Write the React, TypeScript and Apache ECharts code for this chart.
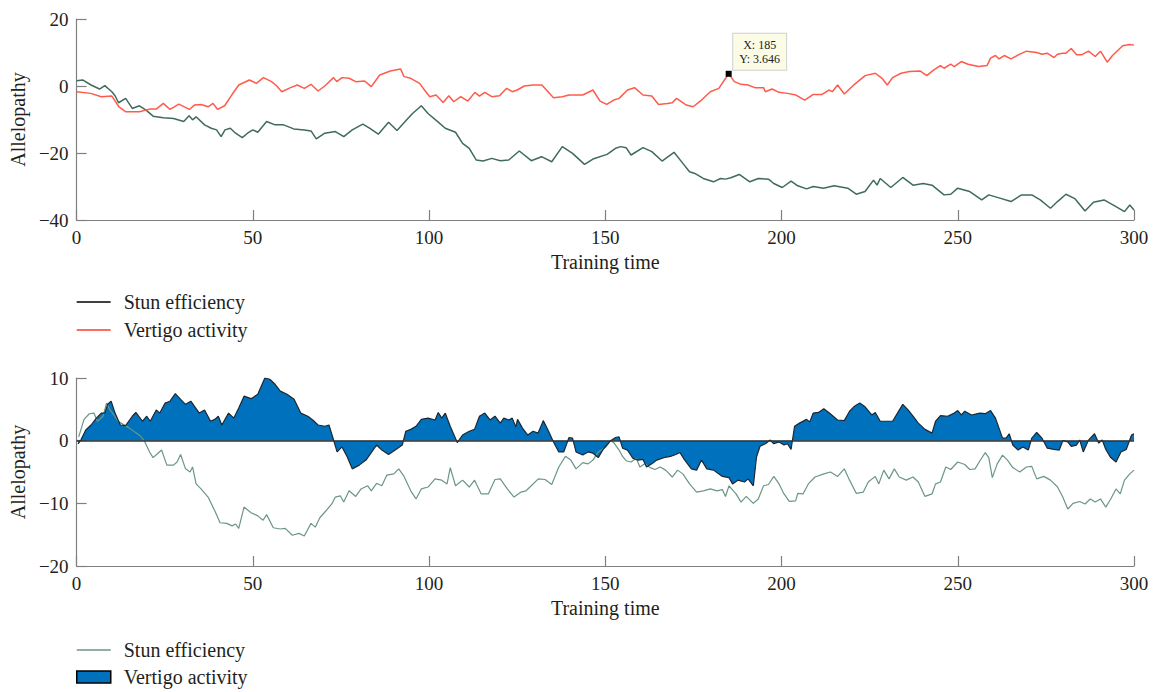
import React, { useEffect, useRef } from "react";
import * as echarts from "echarts";

const FONT = '"Liberation Serif", "DejaVu Serif", serif';
const TXT = "#231f20";
const AXIS = "#808080";

const xTicks = { min: 0, max: 300, interval: 50 };
const seriesNames = ["Stun efficiency", "Vertigo activity"];
const axisNames = { x: "Training time", y: "Allelopathy" };

// Top panel: [training time, allelopathy]
const topStun: [number, number][] = [
  [0, 1.6], [1.7, 1.8], [4.1, 0.3], [6.5, -0.9], [8, 0.1], [10, -1.7], [10.9, -2.9], [11.9, -5], [13.9, -3.7],
  [15.8, -6.7], [17.8, -5.9], [19.7, -7.2], [21.7, -9], [24.6, -9.5], [27.5, -9.7], [30.4, -10.6], [31.9, -8.9],
  [32.9, -10.1], [33.9, -9.2], [36.3, -11.6], [38.2, -12.6], [39.7, -13.1], [41, -15.1], [42.1, -13.1], [43.6, -12.6],
  [45.1, -14.1], [47, -15.4], [48.5, -14.1], [50, -13.1], [51.4, -13.8], [53.9, -10.6], [56.3, -11.6], [58.7, -11.6],
  [61.6, -12.8], [64.6, -13.1], [66.5, -13.4], [68, -15.8], [70.4, -14.1], [73.4, -13.6], [75.8, -15.1], [78.2, -13.1],
  [81.2, -11.4], [83.1, -12.6], [85.6, -14.4], [88.5, -10.8], [90.9, -13.3], [93.4, -10.4], [95.3, -8.2], [97.8, -5.9],
  [99.7, -8.2], [102.6, -10.8], [104.6, -12.6], [107.5, -13.8], [109.5, -17.1], [111.4, -18.6], [113.4, -22.1],
  [115.3, -22.4], [117.8, -21.6], [120.2, -22.3], [122.6, -22.1], [125.6, -19.4], [129, -22.3], [131.9, -21.1],
  [134.8, -22.6], [137.8, -18.1], [140.7, -20.1], [144.1, -23.4], [146.5, -21.8], [150.5, -20.4], [152.9, -18.6],
  [154.4, -18.1], [155.9, -18.4], [157.3, -20.6], [160.7, -18.4], [163.2, -19.6], [166.1, -22.4], [169.5, -19.8],
  [172, -23.1], [173.9, -25.6], [175.4, -26.1], [177.8, -27.6], [180.7, -28.6], [182.7, -27.6], [184.1, -27.8],
  [185.6, -27.4], [188, -26.4], [191, -28.6], [193.4, -27.6], [196.3, -27.8], [197.8, -29.1], [200.2, -30.3],
  [202.7, -28.4], [204.6, -29.8], [207.1, -30.7], [209, -30], [211.9, -30.5], [214.9, -29.8], [218.8, -30.5],
  [221.2, -32.3], [223.7, -31.5], [226.1, -28.1], [227.1, -29.6], [228, -27.6], [231, -30.3], [234.4, -27.3],
  [237.3, -29.6], [240.2, -29.1], [242.7, -29.6], [246.1, -32.5], [248, -32.3], [250, -30.5], [253.4, -31.5],
  [256.8, -34], [258.8, -32.5], [261.7, -33.4], [265.1, -34.5], [268.1, -32.5], [271, -32.5], [273.4, -34],
  [276.3, -36.5], [278.3, -34.5], [280.7, -32.3], [283.2, -33.6], [286.1, -37.3], [288.5, -34.7], [291.5, -34],
  [294.4, -35.7], [297.3, -37.5], [298.8, -35.5], [300, -37],
];

const topVertigo: [number, number][] = [
  [0, -1.7], [4, -2.2], [7, -3.2], [10, -3], [12, -6.2], [14, -7.7], [17.8, -7.7], [20.7, -6.9], [22.6, -6.9],
  [24.6, -5.2], [26.5, -7], [29, -5.4], [32, -7], [33.4, -5.7], [35.3, -5.5], [37.3, -6.2], [38.7, -5.2], [40, -7],
  [42, -5.9], [44, -2.7], [46, 0.3], [49, 1.8], [51, 0.8], [53, 2.5], [55.3, 1.3], [56.8, 0], [58.2, -1.7],
  [60.7, -0.5], [62.6, 0.3], [64.6, -0.7], [66.5, 0.5], [68.5, -1.5], [70.4, 0], [72.9, 2.5], [73.8, 1.3],
  [75.3, 2.5], [77.3, 2.3], [79.2, 1.3], [81.7, 1.5], [83.6, -0.2], [86, 3.3], [89, 4.5], [91.9, 5.1], [92.9, 2.8],
  [94.8, 2.3], [97.3, 0.8], [98.7, -1.2], [100.2, -3.2], [102, -2.7], [104, -4.9], [105.6, -2.9], [107, -4.7],
  [109, -3.2], [111, -4.5], [113, -1.9], [114.3, -3], [115.8, -1.9], [117.8, -3.2], [120, -2.9], [122, -0.7],
  [123.6, -1.7], [125, -1.2], [127, 0], [129.5, 0.3], [132, 0.3], [135.3, -3.5], [137.8, -3.2], [139.7, -2.7],
  [143.6, -2.7], [146.5, -1.2], [148.5, -4.5], [150.4, -5.5], [152.4, -4.2], [153.9, -3.7], [156.3, -1.2],
  [158.3, -0.5], [160.7, -2.7], [163.2, -3], [165.1, -5.5], [167.6, -5.2], [169, -5], [170.2, -3.7], [173, -5.7],
  [174.9, -6.2], [177.3, -4.2], [179.8, -1.7], [182.2, -0.7], [185, 3.646], [186.6, 1.3], [188.5, 0.5],
  [190.5, 0.3], [192.4, -0.5], [194.9, -0.5], [195.4, -1.7], [197.3, -0.9], [199.3, -1.9], [201.7, -2.2],
  [204.1, -2.7], [206.6, -4.2], [209, -2.5], [211.5, -2.5], [213.4, -1.2], [214.4, -1.7], [215.9, 0.3],
  [217.8, -2.4], [220.7, 0.5], [223.7, 3.1], [226.6, 3.8], [228.5, 2.3], [230, 0.3], [231.5, 2.5], [233.9, 3.8],
  [236.3, 4.3], [239.3, 4.5], [241.2, 3.1], [243.2, 4.8], [245.1, 6.1], [246.1, 5.3], [248, 6.5], [249, 5.8],
  [251, 7.3], [252.9, 6.5], [255.9, 5.8], [258.3, 6.1], [259.3, 8.3], [260.7, 9.1], [261.7, 8.1], [263.2, 9.1],
  [265.1, 8.1], [267.6, 9.5], [269.5, 10.4], [272.4, 10], [273.9, 9.5], [275.4, 9.8], [277.3, 8.5], [278.3, 9.5],
  [279.8, 9.8], [280.7, 9.8], [282.2, 11.2], [283.7, 9.3], [285.1, 9.3], [287.1, 10.4], [289, 8.8], [290.5, 10.4],
  [292.4, 7.1], [293.9, 9.1], [296.8, 12], [298.8, 12.4], [300, 12.2],
];

// Data cursor annotation on the top panel
const tipPoint: [number, number] = [185, 3.646];

// Bottom panel
const botStun: [number, number][] = [
  [0.6, 0.6], [2.1, 3.4], [3.6, 4.3], [4.9, 4.4], [5.9, 3.1], [7.5, 3.9], [8.5, 6], [9.5, 4.9], [12, 3], [15, 2],
  [18, 0.8], [19.2, 0], [20.7, -1.8], [21.7, -2.7], [23.1, -2], [24.1, -1.5], [25.6, -3.9], [27.5, -3.9],
  [28.5, -3.4], [29.5, -2.2], [30.9, -4.5], [32.2, -5], [32.9, -4.2], [33.9, -6.9], [35.3, -7.7], [37.3, -9],
  [39.2, -11.2], [40.7, -13.1], [42.6, -13.2], [44.1, -13.6], [45.1, -13.3], [46, -14], [47.5, -10.6],
  [49.5, -11.5], [51.4, -12], [52.9, -12.7], [53.9, -11.8], [55.8, -13.9], [57.8, -14.1], [59.2, -14],
  [61.2, -15.1], [63.1, -14.8], [64.6, -15.2], [66.5, -13.2], [67.7, -13.8], [69, -12.3], [70.9, -11.1],
  [72.4, -10.1], [73.4, -9], [74.8, -8.8], [75.8, -9.8], [77.3, -8], [79.2, -8.9], [80.7, -7.7], [82.6, -7.2],
  [83.6, -8], [85.1, -6.8], [86.6, -7.2], [88, -5.5], [90, -5.3], [91.4, -4.5], [92.9, -5.7], [94.8, -8],
  [96.3, -9.3], [97.8, -7.7], [99.7, -7.4], [101.7, -6.1], [103.6, -6.3], [105.1, -6.9], [106, -4.3],
  [107.5, -7.2], [109.5, -6.3], [111.4, -7.4], [112.9, -6.3], [114.8, -8.5], [116.8, -8.5], [118.7, -6.2],
  [120.2, -6.1], [122.2, -7.7], [124.1, -9], [126.1, -8.2], [127.5, -8], [129, -7.2], [131, -6.1], [132.9, -6.2],
  [134.8, -7], [136.8, -4.2], [138.7, -2.5], [140.2, -3.1], [141.7, -4.5], [143.6, -3.5], [145.1, -3.7],
  [146.5, -3.1], [148, -1.8], [150, -1.1], [151.5, 0], [152.4, -0.3], [153.9, -1.5], [154.9, -2.5], [155.9, -3.2],
  [157.3, -3.4], [158.8, -2.8], [159.8, -4.2], [161.2, -3.7], [162.7, -4.3], [164.1, -4.6], [165.6, -4.2],
  [167.1, -4.7], [169, -5.8], [170.5, -4.7], [172, -5.3], [173.9, -6.9], [175.9, -8.2], [177.8, -8], [179.8, -7.7],
  [181.7, -8], [183.2, -7.8], [184.1, -8.9], [185.1, -7.2], [187.1, -8.5], [188.5, -9.8], [190, -8.9], [192, -10],
  [193.4, -9.3], [194.9, -7.2], [196.3, -7], [197.8, -5.7], [199.3, -6.9], [200.7, -8.5], [202.2, -9.7],
  [204, -9.6], [204.6, -8.4], [206.1, -8.5], [207.6, -6.9], [209.5, -5.8], [212, -5.3], [213.9, -5], [215.9, -5.7],
  [217.8, -4.5], [219.3, -6.3], [221.2, -8.4], [223.2, -8.2], [224.6, -6.6], [226.6, -5.7], [227.6, -6.9],
  [229, -4.7], [230.5, -6.1], [232, -4.5], [233.4, -5.8], [235.4, -6.3], [237.3, -5.8], [238.8, -6.6],
  [240.7, -8.9], [242.7, -8.5], [243.7, -6.9], [245.1, -6.6], [246.6, -4.2], [248, -4.6], [250, -3.4], [252, -3.8],
  [253.4, -4.6], [254.9, -4.5], [256.3, -3.2], [257.8, -1.9], [258.8, -2.7], [259.8, -5.9], [261.2, -3.7],
  [262.7, -2.3], [264.1, -3.1], [265.6, -4.3], [267.6, -5], [269.5, -4.2], [271, -4.1], [272.4, -6.1],
  [274.4, -5.7], [276.3, -6.3], [278.3, -7.4], [279.8, -9], [281.2, -10.9], [282.7, -10], [284.6, -9.7],
  [286.1, -10.1], [287.6, -9.3], [289, -9.8], [290.5, -9.3], [292, -10.6], [293.4, -9.3], [294.9, -7.7],
  [296.1, -8.5], [297.3, -6.3], [298.8, -5.3], [300, -4.7],
];

const botVertigo: [number, number][] = [
  [0.4, -0.5], [1.2, 0.1], [2.6, 1.7], [4.1, 2.5], [5.6, 3.6], [7, 4.4], [8, 4.4], [8.8, 5.8], [9.8, 6.3],
  [10.9, 4.4], [12.4, 2.5], [13.9, 2.4], [15.8, 3.9], [16.8, 4.5], [18.7, 3.1], [19.9, 3.9], [20.9, 3.1],
  [22.6, 4.9], [23.6, 4.4], [25.1, 6], [26.5, 6.3], [28, 7.5], [29.5, 6.6], [30.9, 5.8], [32.4, 6.3], [34.8, 4.4],
  [36.3, 4.9], [38, 3.1], [39.2, 3.4], [40.2, 3.9], [41.2, 2.5], [43.1, 4.4], [44.6, 3.6], [46, 5.2], [47.5, 7.1],
  [49.5, 6.7], [51.4, 7.4], [53.4, 10], [54.8, 9.8], [56.3, 9], [57.8, 7.9], [59.7, 7.4], [61.7, 6.6], [63.6, 4.4],
  [65.6, 3.9], [67, 3.3], [68.5, 2.5], [70.4, 2.3], [71.6, 2.5], [72.9, 0.1], [73.9, -1.8], [75.3, -1],
  [76.8, -2.6], [78.2, -4.5], [80.2, -3.9], [82.1, -3.1], [83.6, -1.9], [85.1, -0.7], [86.6, -1.5], [88.5, -2.2],
  [90.4, -1.5], [92.4, -0.7], [93.4, 1.5], [94.8, 1.8], [96.3, 2.3], [97.8, 3.4], [99.7, 3.6], [101.7, 3.3],
  [102.6, 4.5], [103.6, 3.6], [104.6, 4.4], [106, 2.3], [108, -0.3], [109.5, 0.9], [111.4, 1.5], [112.9, 1.8],
  [114.3, 3.9], [115.8, 4.4], [117.3, 3.3], [118.7, 3.9], [120.2, 2.8], [121.2, 3.6], [122.6, 3.3], [123.6, 3.6],
  [124.6, 2.2], [125.1, 3.4], [126.5, 2], [128, 0.9], [129.5, 1.5], [130.9, 1.2], [132.4, 3.2], [133.9, 1.5],
  [135.3, -0.2], [136.8, -1.8], [138.2, -1.8], [139.7, 0.5], [140.7, 0.4], [141.7, -1.8], [143.6, -2.3],
  [145.1, -1.8], [146.5, -2], [148, -2.7], [149.5, -1.3], [151.5, 0], [152.9, 0.5], [153.9, 0.6], [154.9, -1.2],
  [156.3, -1.5], [157.8, -2.8], [159.3, -3.1], [160.7, -3], [161.7, -4.2], [163.2, -3.7], [164.6, -3.1],
  [166.6, -2.7], [168.5, -2.5], [170, -2.2], [171.2, -1.9], [172.4, -3], [174.4, -4.5], [175.9, -4.7],
  [177.3, -3.1], [178.8, -4.5], [180.7, -4.7], [183.2, -5.7], [185.1, -5.9], [186.1, -6.9], [187.6, -6.3],
  [189.5, -6.6], [190.5, -6.1], [192, -7.2], [192.9, -2.6], [193.9, -0.9], [195.4, -0.5], [196.8, 0.1],
  [197.8, -0.5], [199.3, -0.2], [200.7, -0.7], [201.7, -0.5], [202.7, -1.4], [203.7, 2.3], [205.1, 2.8],
  [207.1, 3.4], [208, 3], [209, 4.4], [210.5, 4.5], [212, 5.1], [213.4, 4.5], [215.9, 3.3], [217.8, 3.2],
  [219.3, 4.7], [220.7, 5.5], [222.2, 6], [223.7, 5.4], [225.6, 4.1], [226.6, 4.5], [228, 3.1], [230, 3.1],
  [231.5, 3.1], [232.9, 4.4], [234.4, 5.8], [235.9, 4.9], [237.3, 3.9], [238.8, 2.8], [240.7, 1.8], [242.7, 1.2],
  [243.7, 3.1], [245.1, 4], [247.1, 3.9], [249, 4.4], [250, 4.8], [251, 4.1], [252, 4.7], [253.9, 4.1],
  [256.3, 4.4], [257.8, 4.3], [259.3, 4.8], [260.7, 3.6], [262.7, 0.4], [263.7, 0.4], [264.6, 1.1], [265.6, -0.7],
  [267.1, -1.5], [268.5, -1], [270, -1.5], [271, 0.4], [272.4, 1.3], [273.9, 0.4], [275.4, -1.2], [277.3, -1.4],
  [278.8, -1.5], [279.8, 0], [281.2, -0.2], [282.2, -0.9], [283.7, -0.7], [284.6, 0.1], [285.6, -1.8],
  [287.1, 0.1], [288.8, 1.1], [290, -0.4], [291, 0.1], [292, -1.4], [293.4, -2.7], [294.9, -3.4], [296.3, -1.8],
  [297.8, -1.4], [299.3, 0.9], [300, 1.1],
];

const topY = { min: -40, max: 20, interval: 20 };
const botY = { min: -20, max: 10, interval: 10 };

const minusFmt = (v: number) => String(v).replace("-", "\u2212");

function axisCommon() {
  return {
    axisLine: { show: true, onZero: false, lineStyle: { color: AXIS, width: 1.2 } },
    axisTick: { show: true, inside: true, length: 10, lineStyle: { color: AXIS, width: 1.2 } },
    axisLabel: { fontSize: 19, fontFamily: FONT, color: TXT, margin: 8, formatter: minusFmt },
    splitLine: { show: false },
    nameLocation: "middle" as const,
    nameTextStyle: { fontSize: 20, fontFamily: FONT, color: TXT },
  };
}

function legendCommon(top: number, gap: number) {
  return {
    orient: "vertical" as const,
    left: 76,
    top,
    padding: 0,
    itemWidth: 34,
    itemHeight: 12,
    itemGap: gap,
    selectedMode: false,
    textStyle: { fontSize: 20, fontFamily: FONT, color: TXT, lineHeight: 20, padding: [0, 0, 0, 8] },
  };
}

export default function App() {
  const topRef = useRef<HTMLDivElement>(null);
  const botRef = useRef<HTMLDivElement>(null);

  useEffect(() => {
    document.body.style.margin = "0";
    const c1 = echarts.init(topRef.current!, undefined, { renderer: "svg" });
    const c2 = echarts.init(botRef.current!, undefined, { renderer: "svg" });

    c1.setOption({
      animation: false,
      grid: { left: 76, top: 19, width: 1058, height: 201 },
      legend: {
        ...legendCommon(292, 8),
        data: [
          { name: seriesNames[0], lineStyle: { color: "#000000", width: 1.3 }, itemStyle: { opacity: 0 } },
          { name: seriesNames[1], lineStyle: { color: "#ff3b2a", width: 1.3 }, itemStyle: { opacity: 0 } },
        ],
      },
      xAxis: { type: "value", ...xTicks, ...axisCommon(), name: axisNames.x, nameGap: 30 },
      yAxis: { type: "value", ...topY, ...axisCommon(), name: axisNames.y, nameGap: 48 },
      series: [
        {
          name: seriesNames[0],
          type: "line",
          data: topStun,
          symbol: "none",
          lineStyle: { color: "#3f6b5c", width: 1.5 },
          itemStyle: { color: "#3f6b5c" },
        },
        {
          name: seriesNames[1],
          type: "line",
          data: topVertigo,
          symbol: "none",
          lineStyle: { color: "#ff5b4c", width: 1.5 },
          itemStyle: { color: "#ff5b4c" },
          markPoint: {
            symbol: "rect",
            symbolSize: 6,
            itemStyle: { color: "#000" },
            label: {
              show: true,
              formatter: `X: ${tipPoint[0]}\nY: ${tipPoint[1]}`,
              position: [34, -37],
              align: "center",
              verticalAlign: "top",
              backgroundColor: "#fbfbe6",
              borderColor: "#cfcfcf",
              borderWidth: 1,
              padding: [4, 6],
              fontSize: 12,
              lineHeight: 14,
              fontFamily: FONT,
              color: "#222",
            },
            data: [{ coord: tipPoint }],
          },
        },
      ],
    });

    c2.setOption({
      animation: false,
      grid: { left: 76, top: 23, width: 1058, height: 188 },
      legend: {
        ...legendCommon(285, 7),
        data: [
          { name: seriesNames[0], lineStyle: { color: "#6b9686", width: 1.3 }, itemStyle: { opacity: 0 } },
          {
            name: seriesNames[1],
            icon: "rect",
            itemStyle: { color: "#0072bd", borderColor: "#000", borderWidth: 1.5 },
          },
        ],
      },
      xAxis: { type: "value", ...xTicks, ...axisCommon(), name: axisNames.x, nameGap: 30 },
      yAxis: { type: "value", ...botY, ...axisCommon(), name: axisNames.y, nameGap: 48 },
      series: [
        {
          name: seriesNames[0],
          type: "line",
          data: botStun,
          symbol: "none",
          lineStyle: { color: "#6b9686", width: 1.2 },
          itemStyle: { color: "#6b9686" },
        },
        {
          name: seriesNames[1],
          type: "line",
          data: botVertigo,
          symbol: "none",
          lineStyle: { color: "#1c2733", width: 1.2 },
          itemStyle: { color: "#0072bd" },
          areaStyle: { color: "#0072bd", opacity: 1 },
          markLine: {
            silent: true,
            symbol: ["none", "none"],
            label: { show: false },
            lineStyle: { color: "#333", width: 1.5, type: "solid" },
            data: [{ yAxis: 0 }],
          },
        },
      ],
    });

    return () => {
      c1.dispose();
      c2.dispose();
    };
  }, []);

  return (
    <div style={{ position: "relative", width: 1154, height: 692, overflow: "hidden", background: "#fff" }}>
      <div ref={topRef} style={{ position: "absolute", left: 0, top: 0, width: 1154, height: 355 }} />
      <div ref={botRef} style={{ position: "absolute", left: 0, top: 355, width: 1154, height: 337 }} />
    </div>
  );
}
